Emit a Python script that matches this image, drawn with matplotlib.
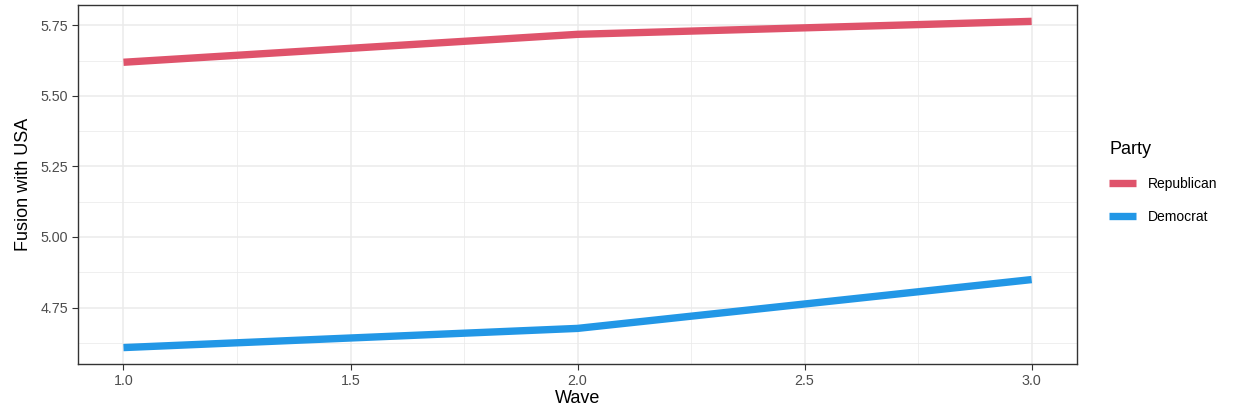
import matplotlib
matplotlib.use('Agg')
import matplotlib.pyplot as plt
import matplotlib.ticker as mticker

# Data
waves = [1, 2, 3]
republican = [5.619, 5.718, 5.764]
democrat = [4.608, 4.676, 4.849]
series_names = ['Republican', 'Democrat']
series_colors = ['#DF536B', '#2297E6']

plt.rcParams['font.family'] = ['Liberation Sans', 'DejaVu Sans']

fig = plt.figure(figsize=(12.45, 4.15), dpi=100)
ax = fig.add_axes([0.0627, 0.123, 0.8024, 0.865])

handles = []
for name, vals, col in zip(series_names, [republican, democrat], series_colors):
    h, = ax.plot(waves, vals, color=col, linewidth=5.3, solid_capstyle='butt', label=name, zorder=3)
    handles.append(h)

ax.set_xlim(0.9, 3.1)
ax.set_ylim(4.55, 5.822)
ax.xaxis.set_major_locator(mticker.MultipleLocator(0.5))
ax.xaxis.set_minor_locator(mticker.MultipleLocator(0.25))
ax.yaxis.set_major_locator(mticker.MultipleLocator(0.25))
ax.yaxis.set_minor_locator(mticker.MultipleLocator(0.125))
ax.xaxis.set_major_formatter(mticker.FormatStrFormatter('%.1f'))
ax.yaxis.set_major_formatter(mticker.FormatStrFormatter('%.2f'))

ax.grid(which='major', color='#EBEBEB', linewidth=1.1, zorder=0)
ax.grid(which='minor', color='#EBEBEB', linewidth=0.55, zorder=0)
ax.set_axisbelow(True)
for sp in ax.spines.values():
    sp.set_color('#333333')
    sp.set_linewidth(1.0)

ax.tick_params(which='major', length=4, color='#333333', width=0.8, labelsize=10.3, labelcolor='#4D4D4D', pad=3)
ax.tick_params(which='minor', length=0)

ax.set_xlabel('Wave', fontsize=13, labelpad=2)
ax.set_ylabel('Fusion with USA', fontsize=13, labelpad=6)

leg = fig.legend(handles=handles, title='Party', loc='upper left', bbox_to_anchor=(0.881, 0.69),
                 frameon=False, fontsize=10, title_fontsize=13, handlelength=1.95,
                 handletextpad=0.85, labelspacing=1.35, alignment='left')

fig.savefig('out.png', dpi=100)
